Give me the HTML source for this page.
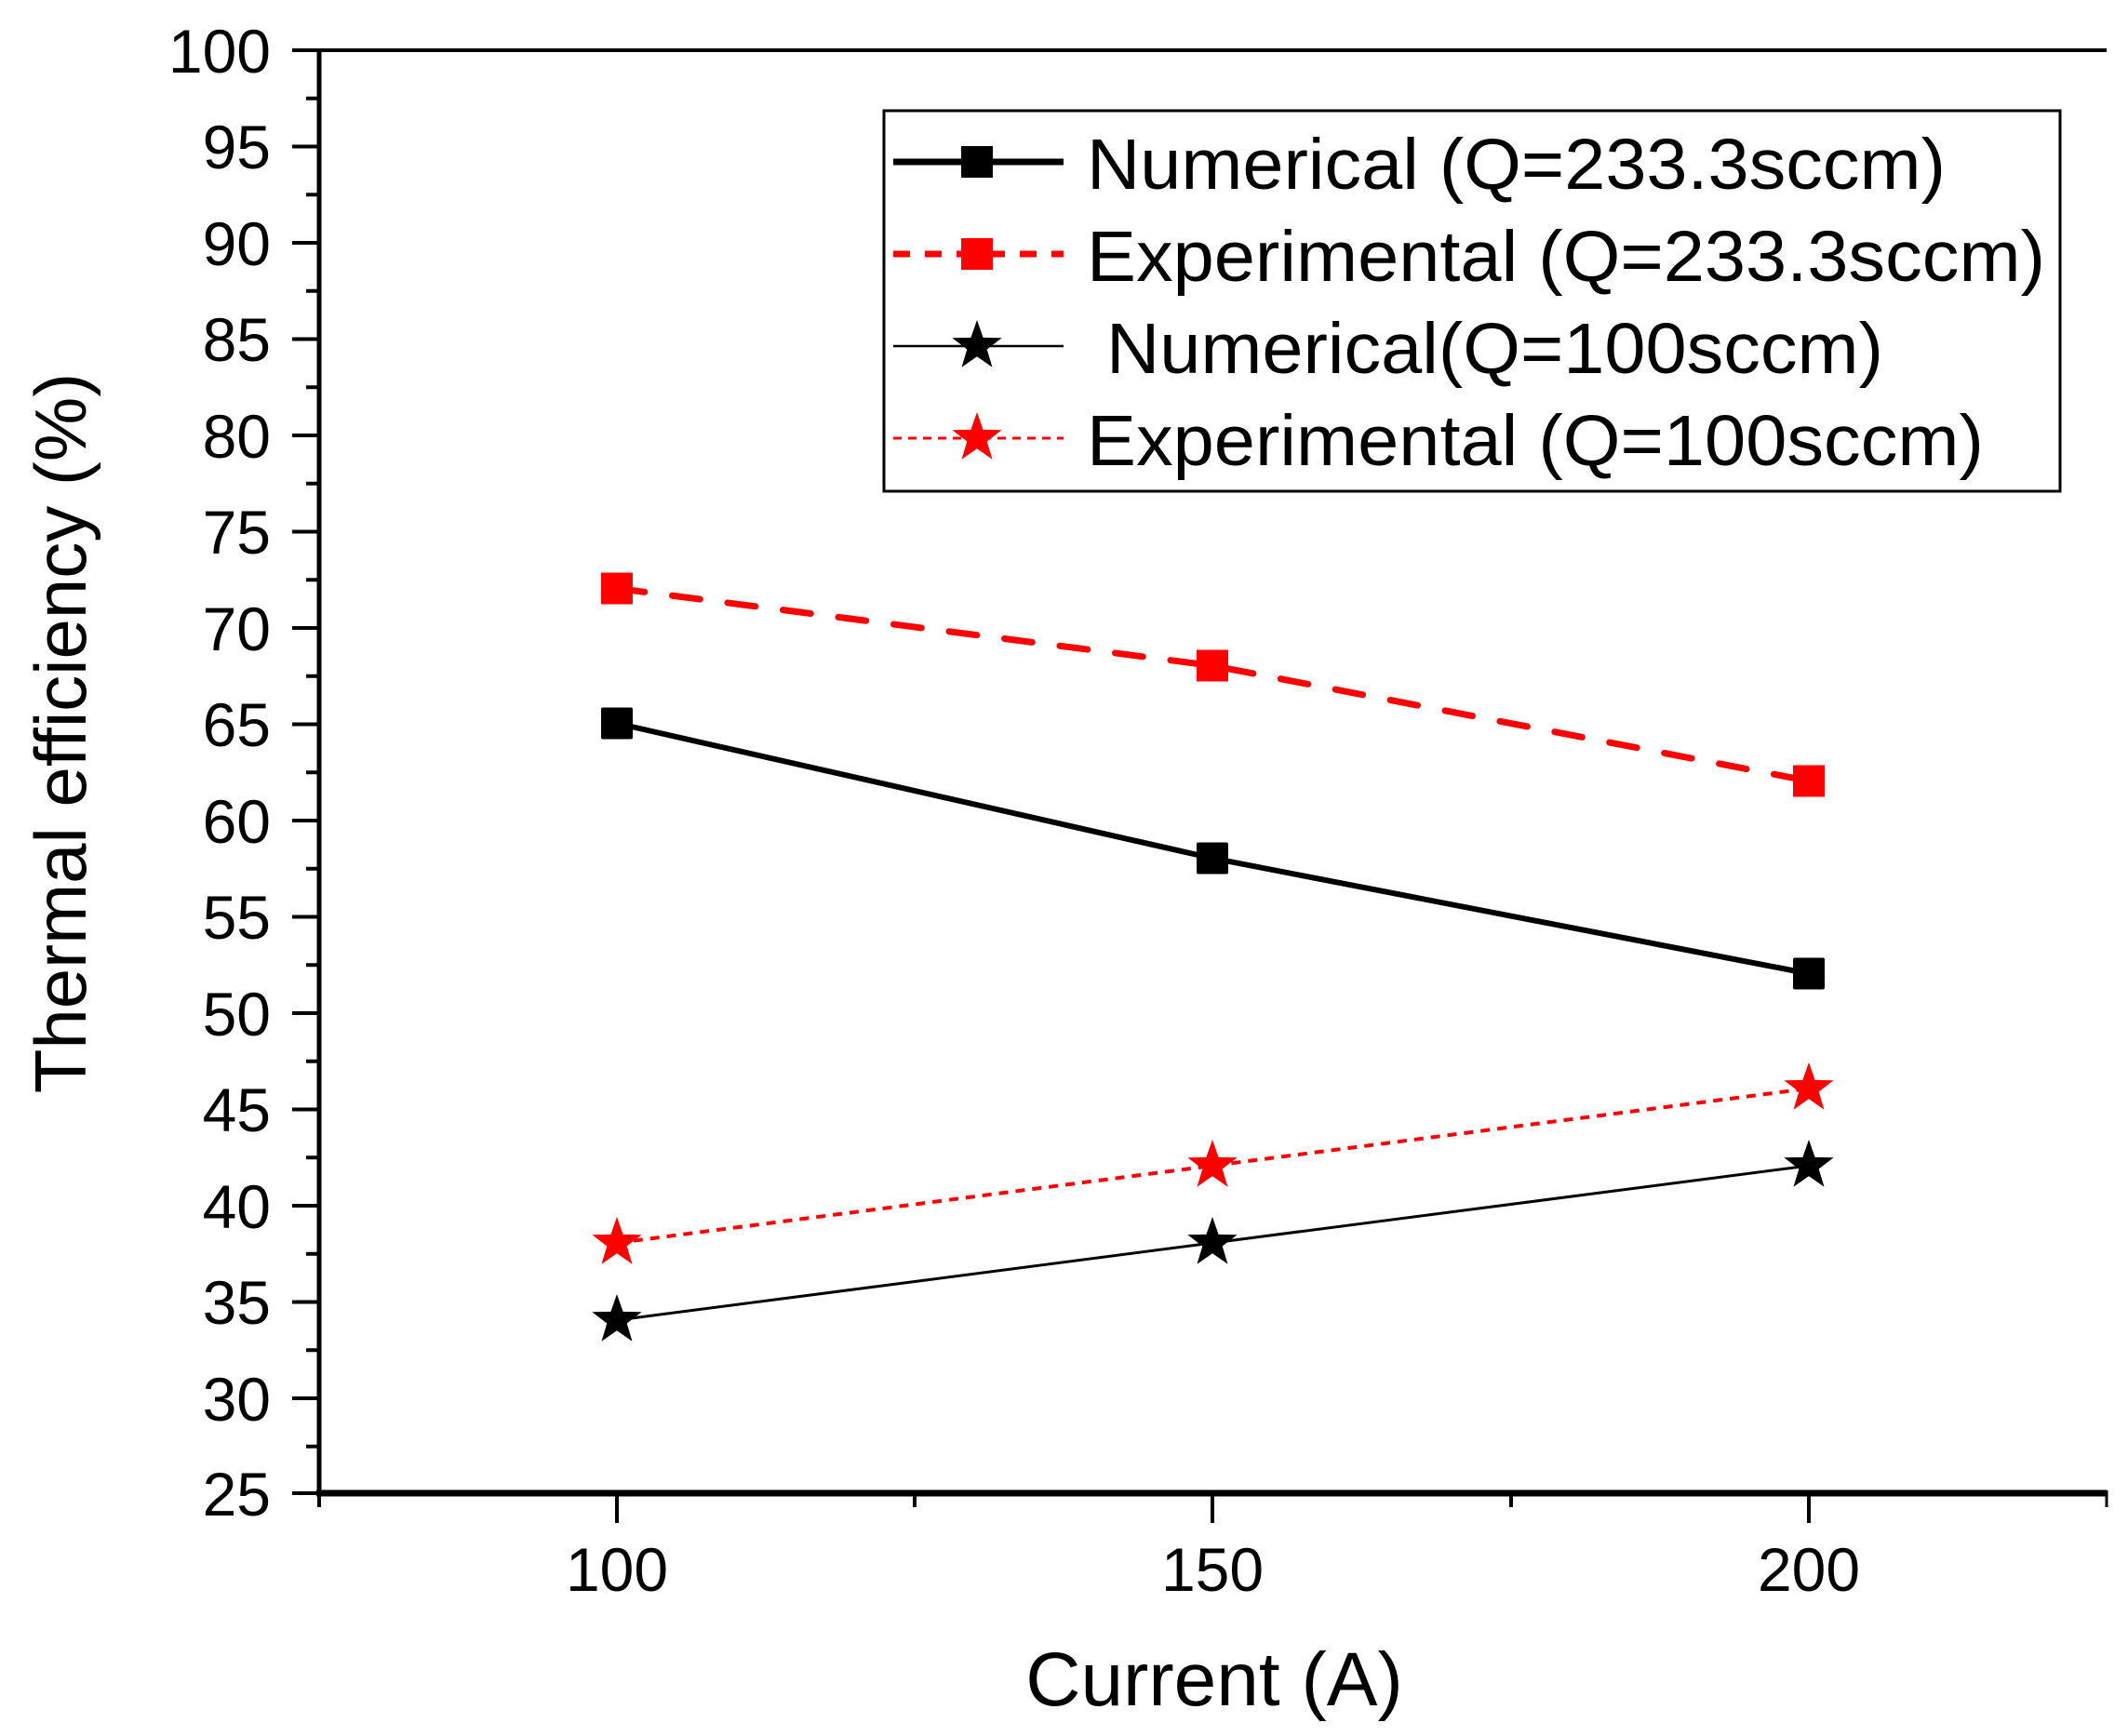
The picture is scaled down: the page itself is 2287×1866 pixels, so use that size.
<!DOCTYPE html>
<html><head><meta charset="utf-8"><style>html,body{margin:0;padding:0;background:#fff}svg{display:block}</style></head>
<body>
<svg width="2287" height="1866" viewBox="0 0 2287 1866" xmlns="http://www.w3.org/2000/svg" font-family="Liberation Sans, Arial, sans-serif">
<defs>
<polygon id="star" points="0,-28 6.6,-9.1 26.6,-8.7 10.7,3.5 16.5,22.7 0,11.2 -16.5,22.7 -10.7,3.5 -26.6,-8.7 -6.6,-9.1" stroke-linejoin="round"/>
</defs>
<g stroke="#000" fill="none">
<line x1="343" y1="54" x2="2264" y2="54" stroke-width="4"/>
<line x1="343" y1="52" x2="343" y2="1608" stroke-width="5"/>
<line x1="340" y1="1605" x2="2264" y2="1605" stroke-width="7"/>
<line x1="2264" y1="1602" x2="2264" y2="1620" stroke-width="3"/>
</g>
<g stroke="#000" stroke-width="4">
<line x1="314" y1="54" x2="343" y2="54"/><line x1="314" y1="157.5" x2="343" y2="157.5"/><line x1="314" y1="261" x2="343" y2="261"/><line x1="314" y1="364.5" x2="343" y2="364.5"/><line x1="314" y1="468" x2="343" y2="468"/><line x1="314" y1="571.5" x2="343" y2="571.5"/><line x1="314" y1="675" x2="343" y2="675"/><line x1="314" y1="778.5" x2="343" y2="778.5"/><line x1="314" y1="882" x2="343" y2="882"/><line x1="314" y1="985.5" x2="343" y2="985.5"/><line x1="314" y1="1089" x2="343" y2="1089"/><line x1="314" y1="1192.5" x2="343" y2="1192.5"/><line x1="314" y1="1296" x2="343" y2="1296"/><line x1="314" y1="1399.5" x2="343" y2="1399.5"/><line x1="314" y1="1503" x2="343" y2="1503"/><line x1="314" y1="1605" x2="343" y2="1605"/>
<line x1="329" y1="105.75" x2="343" y2="105.75"/><line x1="329" y1="209.25" x2="343" y2="209.25"/><line x1="329" y1="312.75" x2="343" y2="312.75"/><line x1="329" y1="416.25" x2="343" y2="416.25"/><line x1="329" y1="519.75" x2="343" y2="519.75"/><line x1="329" y1="623.25" x2="343" y2="623.25"/><line x1="329" y1="726.75" x2="343" y2="726.75"/><line x1="329" y1="830.25" x2="343" y2="830.25"/><line x1="329" y1="933.75" x2="343" y2="933.75"/><line x1="329" y1="1037.25" x2="343" y2="1037.25"/><line x1="329" y1="1140.75" x2="343" y2="1140.75"/><line x1="329" y1="1244.25" x2="343" y2="1244.25"/><line x1="329" y1="1347.75" x2="343" y2="1347.75"/><line x1="329" y1="1451.25" x2="343" y2="1451.25"/><line x1="329" y1="1554.75" x2="343" y2="1554.75"/>
<line x1="343" y1="1605" x2="343" y2="1620"/><line x1="663" y1="1605" x2="663" y2="1637"/><line x1="983" y1="1605" x2="983" y2="1620"/><line x1="1303" y1="1605" x2="1303" y2="1637"/><line x1="1624" y1="1605" x2="1624" y2="1620"/><line x1="1944" y1="1605" x2="1944" y2="1637"/>
</g>
<g font-size="66" text-anchor="end" fill="#000">
<text x="291" y="78">100</text><text x="291" y="181">95</text><text x="291" y="285">90</text><text x="291" y="388">85</text><text x="291" y="492">80</text><text x="291" y="595">75</text><text x="291" y="699">70</text><text x="291" y="802">65</text><text x="291" y="906">60</text><text x="291" y="1009">55</text><text x="291" y="1113">50</text><text x="291" y="1216">45</text><text x="291" y="1320">40</text><text x="291" y="1423">35</text><text x="291" y="1527">30</text><text x="291" y="1629">25</text>
</g>
<g font-size="66" text-anchor="middle" fill="#000">
<text x="663" y="1710">100</text><text x="1303" y="1710">150</text><text x="1944" y="1710">200</text>
</g>
<text x="1305" y="1833" font-size="82" text-anchor="middle">Current (A)</text>
<text transform="translate(92,788) rotate(-90)" font-size="78" text-anchor="middle">Thermal efficiency (%)</text>
<polyline points="663,777.5 1303,922.5 1944,1046.5" fill="none" stroke="#000" stroke-width="6"/>
<polyline points="663,632.5 1303,715.5 1944,839.5" fill="none" stroke="#f00" stroke-width="7" stroke-dasharray="30,30" stroke-linecap="round"/>
<polyline points="663,1419 1303,1336 1944,1253" fill="none" stroke="#000" stroke-width="3"/>
<polyline points="663,1336 1303,1253 1944,1170" fill="none" stroke="#f00" stroke-width="4" stroke-dasharray="10,8"/>
<g fill="#000"><rect x="646" y="760.5" width="34" height="34" rx="2"/><rect x="1286" y="905.5" width="34" height="34" rx="2"/><rect x="1927" y="1029.5" width="34" height="34" rx="2"/></g>
<g fill="#f00"><rect x="646" y="615.5" width="34" height="34"/><rect x="1286" y="698.5" width="34" height="34"/><rect x="1927" y="822.5" width="34" height="34"/></g>
<g fill="#000"><use href="#star" x="663" y="1419"/><use href="#star" x="1303" y="1336"/><use href="#star" x="1944" y="1253"/></g>
<g fill="#f00"><use href="#star" x="663" y="1336"/><use href="#star" x="1303" y="1253"/><use href="#star" x="1944" y="1170"/></g>
<rect x="950" y="119" width="1264" height="409" fill="#fff" stroke="#000" stroke-width="3"/>
<line x1="960" y1="174" x2="1143" y2="174" stroke="#000" stroke-width="7"/>
<rect x="1033" y="157" width="34" height="34" fill="#000"/>
<line x1="960" y1="273" x2="1143" y2="273" stroke="#f00" stroke-width="7" stroke-dasharray="18,16"/>
<rect x="1033" y="256" width="34" height="34" fill="#f00"/>
<line x1="960" y1="372" x2="1143" y2="372" stroke="#000" stroke-width="2.5"/>
<use href="#star" x="1050" y="372" fill="#000"/>
<line x1="960" y1="471" x2="1143" y2="471" stroke="#f00" stroke-width="3" stroke-dasharray="9,7"/>
<use href="#star" x="1050" y="471" fill="#f00"/>
<g font-size="77" fill="#000">
<text x="1168" y="203" textLength="923" lengthAdjust="spacingAndGlyphs">Numerical (Q=233.3sccm)</text>
<text x="1168" y="302" textLength="1030" lengthAdjust="spacingAndGlyphs">Experimental (Q=233.3sccm)</text>
<text x="1189" y="401" textLength="835" lengthAdjust="spacingAndGlyphs">Numerical(Q=100sccm)</text>
<text x="1168" y="500" textLength="964" lengthAdjust="spacingAndGlyphs">Experimental (Q=100sccm)</text>
</g>
</svg>
</body></html>
